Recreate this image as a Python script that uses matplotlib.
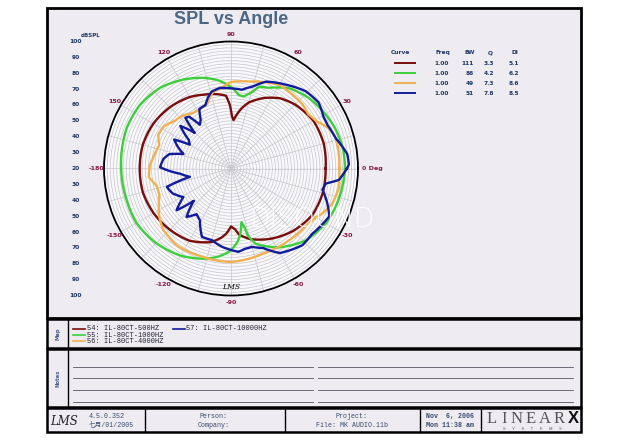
import numpy as np
import matplotlib
matplotlib.use("Agg")
import matplotlib.pyplot as plt
from matplotlib.patches import Rectangle

W, H = 629, 440

# ---------------- data (angle in degrees, level in dB SPL) ----------------
red_ang = [0, 15, 30, 45, 55, 65, 75, 80, 84, 87, 89, 91, 94, 100, 110, 120, 135, 150,
           165, 180, 195, 210, 225, 240, 255, 262, 266, 270, 274, 277, 285, 300, 315, 330, 345]
red_db = [79.6, 80.5, 80, 77, 74, 69, 63, 58.5, 54, 50.5, 53, 60, 66, 67.5, 69.5, 72, 74.5, 76.5,
          77.5, 77.5, 77.5, 76.3, 74.5, 72.5, 68, 64, 61, 56.5, 58.5, 62, 66, 71, 75.5, 79, 79.8]

green_ang = [0, 10, 20, 30, 42, 54, 65, 71, 75, 80, 84, 88, 91, 98, 105, 118, 131, 145, 159,
             171, 180, 197, 210, 225, 240, 255, 262, 269, 275, 278, 281, 283, 284, 288, 301,
             316, 330, 340, 350]
green_db = [91.8, 91.6, 90.5, 88.6, 86.2, 82.5, 76, 74.5, 69.5, 66, 66.5, 70, 72, 76, 79, 83.5,
            87.6, 90, 90.5, 89.7, 89.2, 88.7, 88.8, 86.6, 83.4, 78.8, 76, 72.3, 66.5, 62, 54.5,
            58, 63.3, 69.8, 78, 85.3, 89, 90.2, 91]

orange_ang = [0, 8, 16, 22, 29, 35, 42, 50, 60, 70, 78, 90, 97, 104, 110, 118, 125, 132, 140,
              148, 155, 162, 170, 178, 186, 193, 200, 207, 214, 222, 235, 252, 270, 290, 309,
              323, 330, 334, 341, 350]
orange_db = [88.2, 88.6, 88.7, 86.8, 81.5, 79.5, 80.5, 80.5, 80.8, 78, 76, 74.5, 71, 69, 63.5,
             62, 62.5, 65, 66.5, 70, 70.5, 67.5, 69, 71.2, 72, 68, 68, 71, 74.5, 77.5, 79.3,
             78.4, 78.9, 77.2, 78.1, 79.5, 81.5, 84.2, 87.5, 89]

blue_ang = [0, 2, 7, 16, 24, 29, 37, 46, 57, 68, 75, 82, 90, 98, 104, 108, 112, 118, 122,
            125.5, 129, 132, 135.5, 140, 146, 150, 153, 158, 163, 167, 172, 179, 186, 191.5,
            196, 203, 211, 217.5, 221, 227.5, 233, 239, 247, 255, 264, 270, 275, 280, 285,
            292, 300, 305, 313, 321, 331, 334, 340, 347, 351, 354, 359]
blue_db = [93, 94.3, 93.8, 88.7, 86.7, 86.7, 89.1, 87.7, 83, 79, 73.5, 70.1, 70.5, 71.2, 70,
           67, 63, 62.5, 56, 53.8, 62, 63, 52, 61.7, 52, 50, 60.2, 56, 51.3, 60, 63, 64.7, 52,
           46.4, 62.1, 60, 55, 63.2, 51, 61.4, 56, 58, 66.8, 66.7, 69.8, 71.3, 72.7, 71.3,
           71.1, 74, 81.5, 83.2, 86, 85.6, 88, 88.9, 84.6, 79.1, 80.4, 88.4, 92.2]

curve_colors = ["#7a0c0c", "#3ccf3c", "#f2b14e", "#101c9c"]
legend_names = ["54: IL-80CT-500HZ", "55: IL-80CT-1000HZ", "56: IL-80CT-4000HZ", "57: IL-80CT-10000HZ"]
table_freq = ["1.00", "1.00", "1.00", "1.00"]
table_bw = ["111", "86", "49", "51"]
table_q = ["3.3", "4.2", "7.3", "7.8"]
table_di = ["5.1", "6.2", "8.6", "8.5"]
scale_vals = [100, 90, 80, 70, 60, 50, 40, 30, 20, 30, 40, 50, 60, 70, 80, 90, 100]
angle_labels = [(90, "90"), (120, "120"), (60, "60"), (150, "150"), (30, "30"), (180, "-180"),
                (0, "0 Deg"), (210, "-150"), (330, "-30"), (240, "-120"), (300, "-60"), (270, "-90")]

# ---------------- helpers ----------------
def fx(x):
    return x / W

def fy(y):
    return 1 - y / H

fig = plt.figure(figsize=(W / 100, H / 100), dpi=100)
fig.patch.set_facecolor("white")

PANEL = "#eeecf1"
LABC = "#1c3668"


def box(x0, y0, x1, y1, lw=1.6, fc=PANEL, ec="black", z=0):
    r = Rectangle((fx(x0), fy(y1)), fx(x1 - x0), (y1 - y0) / H, transform=fig.transFigure,
                  facecolor=fc, edgecolor=ec, lw=lw, zorder=z)
    fig.add_artist(r)


def hline(x0, x1, y, color="black", lw=1.0):
    fig.add_artist(plt.Line2D([fx(x0), fx(x1)], [fy(y), fy(y)], transform=fig.transFigure,
                              color=color, lw=lw))


def vline(x, y0, y1, color="black", lw=1.0):
    fig.add_artist(plt.Line2D([fx(x), fx(x)], [fy(y0), fy(y1)], transform=fig.transFigure,
                              color=color, lw=lw))


# main panel and lower sections
box(47, 8, 581, 318, lw=2.0)
box(47, 319, 581, 348, lw=1.8)
vline(68, 319, 348, lw=1.0)
box(47, 349, 581, 407, lw=1.8)
vline(68, 349, 407, lw=1.0)
box(47, 408, 581, 432, lw=1.8)
for xv in (145, 285, 420, 481):
    vline(xv, 408, 432, lw=1.0)

# ---------------- polar plot ----------------
cx, cy, R = 231, 168.5, 127
ax = fig.add_axes([fx(cx - R), fy(cy + R), 2 * R / W, 2 * R / H], projection="polar")
ax.set_facecolor("#f9f8fb")
ax.set_ylim(20, 100)
ax.set_xticks(np.deg2rad(np.arange(0, 360, 15)))
ax.set_yticks(np.arange(22, 100, 2))
ax.tick_params(labelleft=False, labelbottom=False, length=0)
ax.grid(True, color="#c6c6cc", lw=0.5)
ax.spines["polar"].set_color("black")
ax.spines["polar"].set_linewidth(1.3)

for ang, db, col in zip([red_ang, green_ang, orange_ang, blue_ang],
                        [red_db, green_db, orange_db, blue_db], curve_colors):
    a = np.deg2rad(np.array(ang + [ang[0] + 360]))
    d = np.array(db + [db[0]])
    ln, = ax.plot(a, d, color=col, lw=1.7, solid_joinstyle="round")
    ln.get_path()._interpolation_steps = 12

for deg, lab in angle_labels:
    if lab == "0 Deg":
        ax.text(np.deg2rad(deg), 102.5, lab, ha="left", va="center", fontsize=4.6,
                color="#8a1840", fontweight="bold", clip_on=False)
    else:
        ax.text(np.deg2rad(deg), 104.5, lab, ha="center", va="center", fontsize=4.6,
                color="#8a1840", fontweight="bold", clip_on=False)

# LMS mark at bottom of the circle
ax.text(np.deg2rad(270), 94.5, "LMS", ha="center", va="center", fontsize=5.5,
        fontstyle="italic", color="black", clip_on=False, family="DejaVu Serif")

# watermark
fig.text(fx(312), fy(219), "DISOUND", ha="center", va="center", fontsize=19,
         color="white", alpha=0.9, family="DejaVu Sans", fontweight="light")

# ---------------- left dB scale ----------------
for i, v in enumerate(scale_vals):
    ypix = cy - (v - 20) * R / 80 if i <= 8 else cy + (v - 20) * R / 80
    fig.text(fx(76), fy(ypix), str(v), ha="center", va="center", fontsize=4.3,
             color=LABC, fontweight="bold")
fig.text(fx(81), fy(35.5), "dBSPL", ha="left", va="center", fontsize=4.0,
         color=LABC, fontweight="bold")

# ---------------- title ----------------
fig.text(fx(231), fy(20), "SPL vs Angle", ha="center", va="center", fontsize=13,
         color="#4a6787", fontweight="bold", family="Liberation Sans")

# ---------------- curve table ----------------
ty0 = 52.5
tfs = 4.2
fig.text(fx(400), fy(ty0), "Curve", ha="center", va="center", fontsize=tfs, color=LABC, fontweight="bold")
for xx, t in [(443, "Freq"), (470, "BW"), (490, "Q"), (515, "DI")]:
    fig.text(fx(xx), fy(ty0), t, ha="center", va="center", fontsize=tfs, color=LABC, fontweight="bold")
for i in range(4):
    yy = 63.3 + 10 * i
    fig.add_artist(plt.Line2D([fx(395), fx(415)], [fy(yy), fy(yy)], transform=fig.transFigure,
                              color=curve_colors[i], lw=1.4))
    fig.text(fx(449), fy(yy), table_freq[i], ha="right", va="center", fontsize=tfs, color=LABC, fontweight="bold")
    fig.text(fx(474), fy(yy), table_bw[i], ha="right", va="center", fontsize=tfs, color=LABC, fontweight="bold")
    fig.text(fx(494), fy(yy), table_q[i], ha="right", va="center", fontsize=tfs, color=LABC, fontweight="bold")
    fig.text(fx(519), fy(yy), table_di[i], ha="right", va="center", fontsize=tfs, color=LABC, fontweight="bold")

# ---------------- Map legend ----------------
fig.text(fx(58), fy(333.5), "Map", rotation=90, ha="center", va="center", fontsize=3.8,
         color="#4a5a90", fontweight="bold")
pos = [(73, 329), (73, 335), (73, 341), (173, 329)]
for (lx, ly), name, col in zip(pos, legend_names, curve_colors):
    fig.add_artist(plt.Line2D([fx(lx), fx(lx + 12)], [fy(ly), fy(ly)], transform=fig.transFigure,
                              color=col, lw=1.2))
    fig.text(fx(lx + 13.5), fy(ly), name, ha="left", va="center", fontsize=5.0,
             color="#222233", family="Liberation Mono")

# ---------------- Notes ----------------
fig.text(fx(58), fy(378), "Notes", rotation=90, ha="center", va="center", fontsize=3.8,
         color="#4a5a90", fontweight="bold")
for yy in (367.3, 378.3, 390, 401.7):
    hline(73, 313, yy, color="#555560", lw=0.6)
    hline(318, 573, yy, color="#555560", lw=0.6)

# ---------------- footer ----------------
ffs = 4.8
fcol = "#3a4a70"
fig.text(fx(64), fy(421), "LMS", ha="center", va="center", fontsize=8.5, fontstyle="italic",
         color="#222222", family="DejaVu Serif")
fig.text(fx(89), fy(416.5), "4.5.0.352", ha="left", va="center", fontsize=ffs, color=fcol,
         family=["Liberation Mono", "Noto Sans CJK SC"])
fig.text(fx(89), fy(425), "七月/01/2005", ha="left", va="center", fontsize=ffs, color=fcol,
         family=["Liberation Mono", "Noto Sans CJK SC"])
fig.text(fx(214), fy(416.5), "Person:", ha="center", va="center", fontsize=ffs, color=fcol,
         family="Liberation Mono")
fig.text(fx(214), fy(425), "Company:", ha="center", va="center", fontsize=ffs, color=fcol,
         family="Liberation Mono")
fig.text(fx(352), fy(416.5), "Project:", ha="center", va="center", fontsize=ffs, color=fcol,
         family="Liberation Mono")
fig.text(fx(352), fy(425), "File: MK AUDIO.11b", ha="center", va="center", fontsize=ffs,
         color=fcol, family="Liberation Mono")
fig.text(fx(450), fy(416.5), "Nov  6, 2006", ha="center", va="center", fontsize=ffs,
         color=fcol, family="Liberation Mono", fontweight="bold")
fig.text(fx(450), fy(425), "Mon 11:38 am", ha="center", va="center", fontsize=ffs,
         color=fcol, family="Liberation Mono", fontweight="bold")
for xx, ch in zip([492, 504, 517, 531, 545, 559], "LINEAR"):
    fig.text(fx(xx), fy(418.5), ch, ha="center", va="center", fontsize=12,
             color="#555555", family="Liberation Serif")
fig.text(fx(573), fy(418.5), "X", ha="center", va="center", fontsize=12,
         color="#111111", family="Liberation Sans", fontweight="bold")
fig.text(fx(532), fy(428.5), "S      Y      S      T      E      M      S", ha="center",
         va="center", fontsize=2.8, color="#555555", family="Liberation Sans")

fig.savefig("out.png", dpi=100)
